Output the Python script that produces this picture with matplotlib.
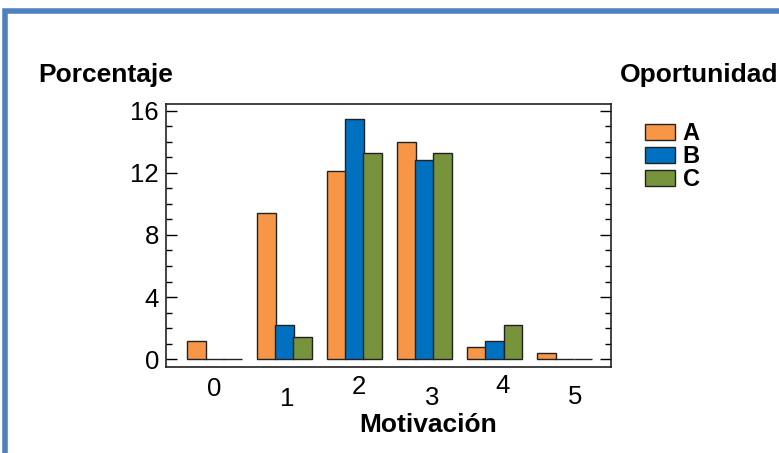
import numpy as np
import matplotlib
matplotlib.use("Agg")
import matplotlib.pyplot as plt
import matplotlib.patches as patches
import matplotlib.transforms as mtransforms

plt.rcParams['font.family'] = ['Liberation Sans', 'DejaVu Sans']

# Data
motivacion = ['0', '1', '2', '3', '4', '5']
serie_a = [1.15, 9.4, 12.1, 14.0, 0.8, 0.4]
serie_b = [0.0, 2.2, 15.45, 12.85, 1.15, 0.0]
serie_c = [0.0, 1.4, 13.25, 13.25, 2.2, 0.0]
oportunidad = ['A', 'B', 'C']
colores = ['#F79646', '#0070C0', '#77933C']

fig = plt.figure(figsize=(7.79, 4.53), dpi=100)
ax = fig.add_axes([166 / 779, 1 - 367 / 453, 445 / 779, 263 / 453])

x = np.arange(len(motivacion))
w = 0.27
for i, (vals, lab, col) in enumerate(zip([serie_a, serie_b, serie_c], oportunidad, colores)):
    ax.bar(x + (i - 1) * 0.26, vals, w, color=col, edgecolor='#222222',
           linewidth=1.0, label=lab)

ax.set_xlim(-0.695, 5.66)
ax.set_ylim(-0.5, 16.43)
ax.set_yticks([0, 4, 8, 12, 16])
ax.set_yticks(np.arange(0, 17, 1), minor=True)
ax.tick_params(axis='y', which='both', direction='in', left=True, right=True,
               labelsize=18.5, pad=5)
ax.tick_params(axis='y', which='major', length=8, width=1)
ax.tick_params(axis='y', which='minor', length=4, width=1)

ax.set_xticks(x)
ax.set_xticklabels(motivacion, fontsize=18.5)
ax.tick_params(axis='x', length=0, pad=7)
# the labels in the reference sit staggered up and down
dx_px = [0, 2, 4, 7, 8, 10]
dy_px = [0, 10, -2, 9, -3, 8]
for lbl, ddx, ddy in zip(ax.get_xticklabels(), dx_px, dy_px):
    off = mtransforms.ScaledTranslation(ddx / 100, -ddy / 100, fig.dpi_scale_trans)
    lbl.set_transform(lbl.get_transform() + off)

for s in ax.spines.values():
    s.set_linewidth(1.2)
    s.set_color('#222222')

fig.text(38 / 779, 1 - 75 / 453, 'Porcentaje', fontsize=19, fontweight='bold',
         ha='left', va='center')
fig.text(778 / 779, 1 - 75 / 453, 'Oportunidad', fontsize=19, fontweight='bold',
         ha='right', va='center')
fig.text(428 / 779, 1 - 425 / 453, 'Motivación', fontsize=19, fontweight='bold',
         ha='center', va='center')

leg = ax.legend(loc='upper left', bbox_to_anchor=(645 / 779, 1 - 122 / 453),
                bbox_transform=fig.transFigure, frameon=False, borderpad=0,
                borderaxespad=0, handlelength=1.25, handleheight=0.65,
                handletextpad=0.35, labelspacing=0.0,
                prop={'size': 17, 'weight': 'bold'})

# blue frame, only the left and top sides fall inside the picture
frame = patches.Rectangle((5 / 779, -0.2), 1.2, 1 - 11 / 453 + 0.2,
                          transform=fig.transFigure, fill=False,
                          edgecolor='#4F81BD', linewidth=4.0)
fig.add_artist(frame)

fig.savefig('out.png', dpi=100)
